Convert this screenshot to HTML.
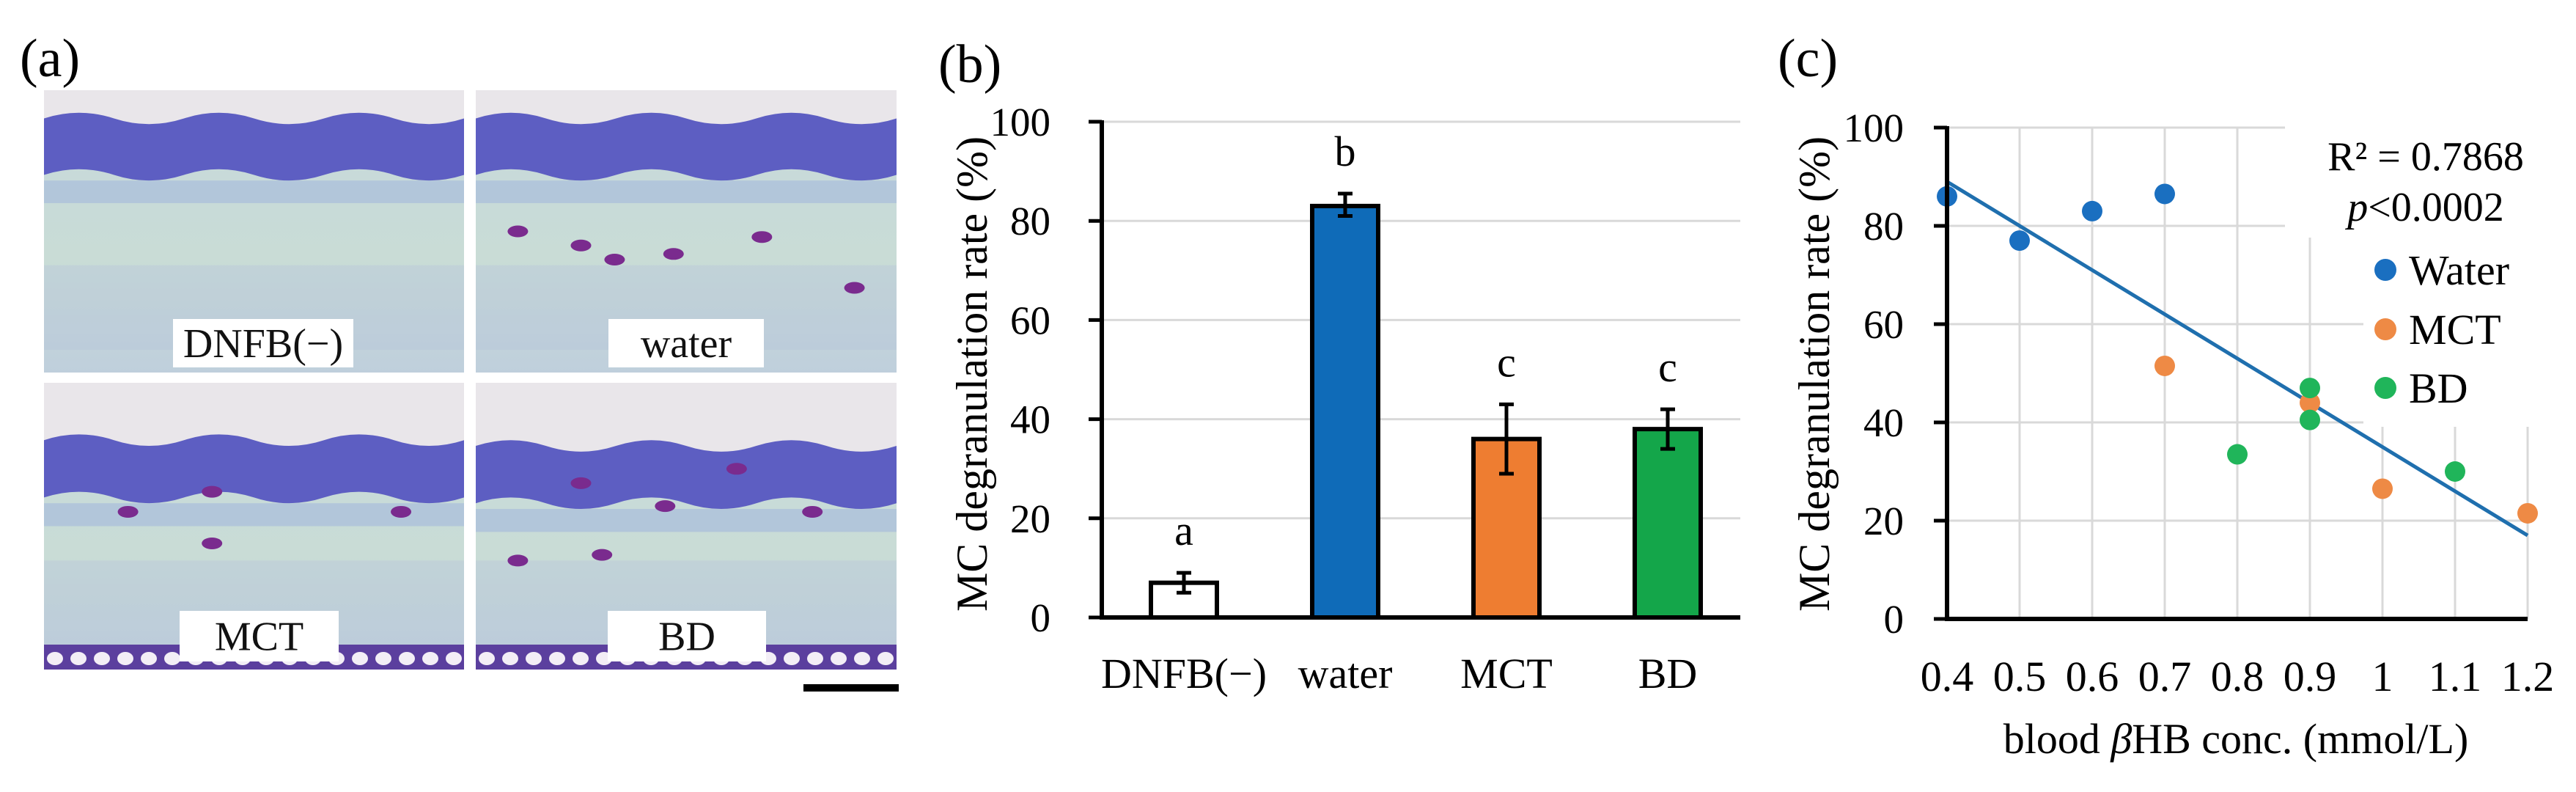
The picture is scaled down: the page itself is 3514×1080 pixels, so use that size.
<!DOCTYPE html>
<html><head><meta charset="utf-8">
<style>
html,body{margin:0;padding:0;background:#fff;}
#root{position:relative;width:3514px;height:1080px;overflow:hidden;background:#fff;font-family:"Liberation Serif",serif;}
svg text{font-family:"Liberation Serif",serif;}
</style></head>
<body>
<div id="root">
<svg id="svg" width="3514" height="1080" viewBox="0 0 3514 1080" xmlns="http://www.w3.org/2000/svg">
<defs>
<linearGradient id="derm" x1="0" y1="0" x2="0" y2="1">
<stop offset="0" stop-color="#c6d8dc"/><stop offset="0.6" stop-color="#c9dcd6"/><stop offset="1" stop-color="#bfcfdc"/>
</linearGradient>
</defs>
<g id="panelA">
<text x="27" y="104" font-size="74">(a)</text>
</g>
<g id="panelB">
<text x="1280" y="112" font-size="74">(b)</text>
</g>
<g id="panelC">
<text x="2425" y="104" font-size="74">(c)</text>
</g>
</svg>
</div>
<script>
const NS="http://www.w3.org/2000/svg";
function mk(parent,tag,attrs,text){const e=document.createElementNS(NS,tag);for(const k in attrs)e.setAttribute(k,attrs[k]);if(text!==undefined)e.textContent=text;parent.appendChild(e);return e;}

// ---------- Panel A: micrographs ----------
const microLabels=["DNFB(\u2212)","water","MCT","BD"];
const A=document.getElementById('panelA');
const tiles=[[60,123,573,385],[649,123,574,385],[60,522,573,391],[649,522,574,391]];
const labelBoxes=[[236,435,246,66],[830,435,212,66],[245,833,217,69],[829,833,216,69]];
const tops=[0.1,0.1,0.2,0.22];
const cells=[[],[[0.25,0.55],[0.33,0.6],[0.47,0.58],[0.68,0.52],[0.9,0.7],[0.1,0.5]],[[0.2,0.45],[0.4,0.38],[0.85,0.45],[0.4,0.56]],[[0.25,0.35],[0.45,0.43],[0.62,0.3],[0.8,0.45],[0.1,0.62],[0.3,0.6]]];
tiles.forEach((t,i)=>{
  const g=mk(A,'g',{});
  
  
  const [x,y,w,h]=t;
  mk(g,'rect',{x:x,y:y,width:w,height:h,fill:'url(#derm)'});
  const top=tops[i];
  mk(g,'rect',{x:x,y:y,width:w,height:h*(top+0.05),fill:'#e9e6ea'});
  let d='M'+x+' '+(y+h*top);
  for(let k=1;k<=6;k++){d+=' Q'+(x+w*(k-0.5)/6)+' '+(y+h*(top-0.04*((k%2)?1:-1)))+' '+(x+w*k/6)+' '+(y+h*top);}
  d+=' L'+(x+w)+' '+(y+h*(top+0.2));
  for(let k=5;k>=0;k--){d+=' Q'+(x+w*(k+0.5)/6)+' '+(y+h*(top+0.2+0.04*((k%2)?1:-1)))+' '+(x+w*k/6)+' '+(y+h*(top+0.2));}
  d+='Z';
  mk(g,'path',{d:d,fill:'#5d5ec2'});
  mk(g,'rect',{x:x,y:y+h*(top+0.22),width:w,height:h*0.08,fill:'#a8bddb',opacity:0.7});
  mk(g,'rect',{x:x,y:y+h*0.62,width:w,height:h*0.3,fill:'#b5c2da',opacity:0.35});
  cells[i].forEach(c=>mk(g,'ellipse',{cx:x+w*c[0],cy:y+h*c[1],rx:14,ry:8,fill:'#7a2b8e'}));
  if(i>=2){mk(g,'rect',{x:x,y:y+h-34,width:w,height:34,fill:'#5b3f9e'});
    for(let k=0;k<18;k++)mk(g,'ellipse',{cx:x+15+k*32,cy:y+h-15,rx:11,ry:9,fill:'#f3eef6'});}
  const b=labelBoxes[i];
  mk(g,'rect',{x:b[0],y:b[1],width:b[2],height:b[3],fill:'#fff'});
  const tx=mk(g,'text',{x:b[0]+b[2]/2,y:b[1]+b[3]/2+19,'font-size':56,'text-anchor':'middle',fill:'#111'},microLabels[i]);
  
  
});
const sb=mk(A,'rect',{x:1096,y:933,width:130,height:10,fill:'#000'});



// ---------- Panel B: bar chart ----------
const barCategories=["DNFB(\u2212)","water","MCT","BD"];
const barValues=[7,83,36,38];
const barErrLow=[5,81,29,34];
const barErrHigh=[9,85.5,43,42];
const barLetters=["a","b","c","c"];
const barColors=["#ffffff","#0f6bb8","#ee7d31","#14a64a"];
const barTicks=[0,20,40,60,80,100];

const B=document.getElementById('panelB');
const bX0=1503,bX1=2374,bY0=842,bY100=166;
const byS=v=>bY0-(v/100)*(bY0-bY100);
const bxS=i=>1615+i*220;
barTicks.forEach(t=>{
  if(t>0){const gl=mk(B,'line',{x1:bX0,x2:bX1,y1:byS(t),y2:byS(t),stroke:'#d9d9d9','stroke-width':3});
    
    }
  const tl=mk(B,'line',{x1:bX0-18,x2:bX0,y1:byS(t),y2:byS(t),stroke:'#000','stroke-width':5});
  
  
  const lb=mk(B,'text',{x:1433,y:byS(t)+19,'font-size':55,'text-anchor':'end'},String(t));
  
  
});
barValues.forEach((v,i)=>{
  const cx=bxS(i),w=90;
  const r=mk(B,'rect',{x:cx-w/2,y:byS(v),width:w,height:bY0-byS(v),fill:barColors[i],stroke:'#000','stroke-width':6});
  
  
  const e=mk(B,'path',{d:'M'+(cx-10)+' '+byS(barErrHigh[i])+'H'+(cx+10)+'M'+cx+' '+byS(barErrHigh[i])+'V'+byS(barErrLow[i])+'M'+(cx-10)+' '+byS(barErrLow[i])+'H'+(cx+10),stroke:'#000','stroke-width':5,fill:'none'});
  
  
  const lt=mk(B,'text',{x:cx,y:byS(barErrHigh[i])-38,'font-size':58,'text-anchor':'middle'},barLetters[i]);
  
  
  const xl=mk(B,'text',{x:cx,y:938,'font-size':58,'text-anchor':'middle'},barCategories[i]);
  
  
});
const bax=mk(B,'path',{d:'M'+bX0+' '+(bY100-2)+'V'+bY0+'H'+bX1,stroke:'#000','stroke-width':6,fill:'none'});


const byt=mk(B,'text',{x:0,y:0,'font-size':60,'text-anchor':'middle',transform:'translate(1346,510) rotate(-90)'},'MC degranulation rate (%)');



// ---------- Panel C: scatter ----------
const waterX=[0.4,0.5,0.6,0.7];
const waterY=[86,77,83,86.5];
const mctX=[0.7,0.9,1.0,1.2];
const mctY=[51.5,44,26.5,21.5];
const bdX=[0.8,0.9,0.9,1.1];
const bdY=[33.5,47,40.5,30];
const trendX=[0.4,1.2];
const trendY=[89,17];
const cxTicks=[0.4,0.5,0.6,0.7,0.8,0.9,1,1.1,1.2];
const cyTicks=[0,20,40,60,80,100];

const C=document.getElementById('panelC');
const cxS=v=>2656+(v-0.4)*990;
const cyS=v=>844-v*6.7;
cxTicks.forEach(t=>{
  const gl=mk(C,'line',{x1:cxS(t),x2:cxS(t),y1:cyS(100),y2:cyS(0),stroke:'#d9d9d9','stroke-width':3});
  
  
  const lb=mk(C,'text',{x:cxS(t),y:942,'font-size':58,'text-anchor':'middle'},String(t));
  
  
});
cyTicks.forEach(t=>{
  if(t>0){const gl=mk(C,'line',{x1:cxS(0.4),x2:cxS(1.2),y1:cyS(t),y2:cyS(t),stroke:'#d9d9d9','stroke-width':3});
    
    }
  const tl=mk(C,'line',{x1:2638,x2:2656,y1:cyS(t),y2:cyS(t),stroke:'#000','stroke-width':5});
  
  
  const lb=mk(C,'text',{x:2597,y:cyS(t)+19,'font-size':55,'text-anchor':'end'},String(t));
  
  
});
mk(C,'rect',{x:3117,y:172,width:335,height:152,fill:'#fff'});
mk(C,'rect',{x:3224,y:324,width:228,height:258,fill:'#fff'});
const tr=mk(C,'line',{x1:cxS(trendX[0]),y1:cyS(trendY[0]),x2:cxS(trendX[1]),y2:cyS(trendY[1]),stroke:'#1f6fae','stroke-width':5});


function pts(xs,ys,col,name){xs.forEach((x,i)=>{const c=mk(C,'circle',{cx:cxS(x),cy:cyS(ys[i]),r:14,fill:col});
  
  });}
pts(waterX,waterY,'#1a6fc0','point-water');
pts(mctX,mctY,'#ee8a45','point-mct');
pts(bdX,bdY,'#20b55a','point-bd');
const cax=mk(C,'path',{d:'M2656 '+(cyS(100)-2)+'V844H'+cxS(1.2),stroke:'#000','stroke-width':6,fill:'none'});


const r2=mk(C,'text',{x:3309,y:232,'font-size':56,'text-anchor':'middle'},'R\u00b2 = 0.7868');


const pv=mk(C,'text',{x:3309,y:301,'font-size':56,'text-anchor':'middle'});


mk(pv,'tspan',{'font-style':'italic'},'p');
mk(pv,'tspan',{},'<0.0002');
const legItems=[["Water","#1a6fc0",368],["MCT","#ee8a45",449],["BD","#20b55a",529]];
legItems.forEach(l=>{
  const g=mk(C,'g',{});
  
  
  mk(g,'circle',{cx:3254,cy:l[2],r:15,fill:l[1]});
  mk(g,'text',{x:3286,y:l[2]+20,'font-size':58},l[0]);
});
const cyt=mk(C,'text',{x:0,y:0,'font-size':60,'text-anchor':'middle',transform:'translate(2495,510) rotate(-90)'},'MC degranulation rate (%)');


const cxt=mk(C,'text',{x:3050,y:1027,'font-size':58,'text-anchor':'middle'});


mk(cxt,'tspan',{},'blood ');
mk(cxt,'tspan',{'font-style':'italic'},'\u03b2');
mk(cxt,'tspan',{},'HB conc. (mmol/L)');
</script>
</body></html>
